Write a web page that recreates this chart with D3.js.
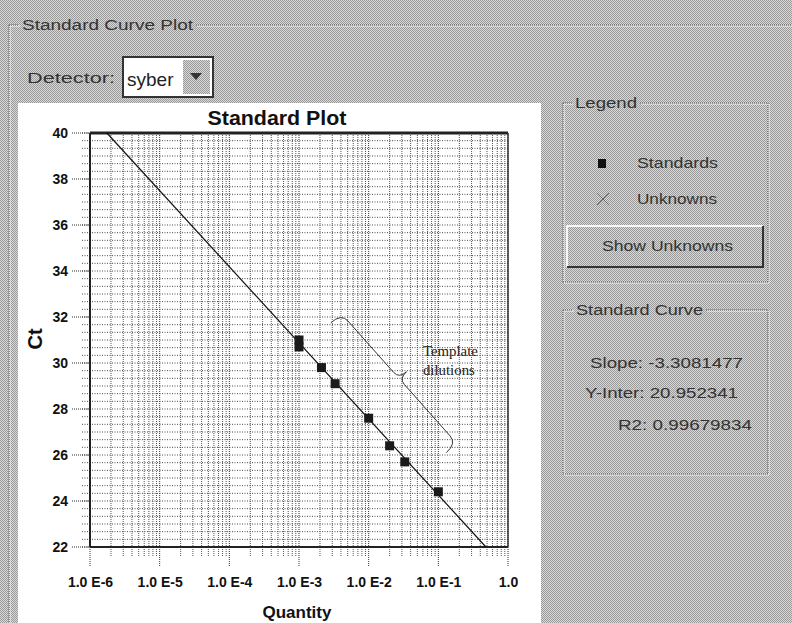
<!DOCTYPE html>
<html>
<head>
<meta charset="utf-8">
<script src="https://cdn.jsdelivr.net/npm/d3@7"></script>
<style>
  html, body { margin: 0; padding: 0; background: #c0c0c0; }
  svg { display: block; }
</style>
</head>
<body>
<svg id="chart" width="792" height="623"></svg>
<script>
// Standard curve: quantity (log scale) vs threshold cycle
const standardQty = [0.001, 0.001, 0.0021, 0.0033, 0.01, 0.02, 0.033, 0.1];
const standardCt  = [31.0, 30.7, 29.8, 29.1, 27.6, 26.4, 25.7, 24.4];

const curveSlope = -3.3081477;
const curveIntercept = 20.952341;
const curveR2 = 0.99679834;

const xTickValues = [1e-6, 1e-5, 1e-4, 1e-3, 1e-2, 1e-1, 1];
const xTickLabels = ["1.0 E-6", "1.0 E-5", "1.0 E-4", "1.0 E-3", "1.0 E-2", "1.0 E-1", "1.0"];
const yTickValues = [22, 24, 26, 28, 30, 32, 34, 36, 38, 40];

const detectorName = "syber";

const svg = d3.select("#chart");
const W = 792, H = 623;

// dithered window background
const defs = svg.append("defs");
const pat = defs.append("pattern").attr("id", "dither")
  .attr("width", 2).attr("height", 2).attr("patternUnits", "userSpaceOnUse");
pat.append("rect").attr("width", 2).attr("height", 2).attr("fill", "#d8d8d8");
pat.append("rect").attr("x", 0).attr("y", 0).attr("width", 1).attr("height", 1).attr("fill", "#9a9a9a");
pat.append("rect").attr("x", 1).attr("y", 1).attr("width", 1).attr("height", 1).attr("fill", "#9a9a9a");
svg.append("rect").attr("width", W).attr("height", H).attr("fill", "url(#dither)");

const uiFont = "'Liberation Sans', Arial, sans-serif";

// etched group box helper
function groupBox(x0, y0, x1, y1, label, labelX, labelW) {
  const g = svg.append("g");
  const segs = [
    [x0, y0, labelX - 3, y0], [labelX + labelW + 3, y0, x1, y0],
    [x0, y0, x0, y1], [x1, y0, x1, y1], [x0, y1, x1, y1]
  ];
  segs.forEach(s => {
    g.append("line").attr("x1", s[0] + 1).attr("y1", s[1] + 1).attr("x2", s[2] + 1).attr("y2", s[3] + 1)
      .attr("stroke", "#f4f4f4").attr("stroke-width", 1);
    g.append("line").attr("x1", s[0]).attr("y1", s[1]).attr("x2", s[2]).attr("y2", s[3])
      .attr("stroke", "#555").attr("stroke-width", 1).attr("stroke-dasharray", "1,1");
  });
  g.append("text").attr("x", labelX).attr("y", y0 + 5).attr("font-family", uiFont)
    .attr("font-size", 14).attr("fill", "#333").attr("textLength", labelW)
    .attr("lengthAdjust", "spacingAndGlyphs").text(label);
  return g;
}

// outer group "Standard Curve Plot"
groupBox(9, 25, 800, 640, "Standard Curve Plot", 22, 171);

// detector selector
svg.append("text").attr("x", 27).attr("y", 83).attr("font-family", uiFont).attr("font-size", 14)
  .attr("fill", "#333").attr("textLength", 88).attr("lengthAdjust", "spacingAndGlyphs").text("Detector:");
svg.append("rect").attr("x", 123).attr("y", 57).attr("width", 90).attr("height", 40)
  .attr("fill", "#fff").attr("stroke", "#333").attr("stroke-width", 2);
svg.append("text").attr("x", 127).attr("y", 86).attr("font-family", uiFont).attr("font-size", 19)
  .attr("fill", "#222").text(detectorName);
svg.append("rect").attr("x", 183).attr("y", 60).attr("width", 27).attr("height", 34).attr("fill", "url(#dither)");
svg.append("path").attr("d", "M190,73 L202,73 L196,80 Z").attr("fill", "#333");

// white chart panel
svg.append("rect").attr("x", 18).attr("y", 103).attr("width", 523).attr("height", 530).attr("fill", "#fff");

// plot scales
const plot = { left: 90, right: 508, top: 133, bottom: 547 };
const x = d3.scaleLog().domain([1e-6, 1]).range([plot.left, plot.right]);
const y = d3.scaleLinear().domain([22, 40]).range([plot.bottom, plot.top]);

const g = svg.append("g");

// vertical grid: decades and their 2..9 subdivisions
const minorX = [];
for (let d = -6; d < 0; d++) for (let k = 2; k <= 9; k++) minorX.push(k * Math.pow(10, d));
g.append("g").selectAll("line").data(minorX).join("line")
  .attr("x1", d => x(d)).attr("x2", d => x(d))
  .attr("y1", plot.top).attr("y2", plot.bottom + 10)
  .attr("stroke", "#555").attr("stroke-width", 1).attr("stroke-dasharray", "1,1");
g.append("g").selectAll("line").data(xTickValues).join("line")
  .attr("x1", d => x(d)).attr("x2", d => x(d))
  .attr("y1", plot.top).attr("y2", plot.bottom + 20)
  .attr("stroke", "#333").attr("stroke-width", 1).attr("stroke-dasharray", "1,1");

// horizontal grid: every third of a cycle
const minorY = d3.range(22, 40.01, 1 / 3);
g.append("g").selectAll("line").data(minorY).join("line")
  .attr("x1", plot.left - 8).attr("x2", plot.right)
  .attr("y1", d => y(d)).attr("y2", d => y(d))
  .attr("stroke", "#4a4a4a").attr("stroke-width", 1).attr("stroke-dasharray", "1,1.5");
g.append("g").selectAll("line").data(yTickValues).join("line")
  .attr("x1", plot.left - 18).attr("x2", plot.left)
  .attr("y1", d => y(d)).attr("y2", d => y(d))
  .attr("stroke", "#333").attr("stroke-width", 1).attr("stroke-dasharray", "1,1");

// frame
g.append("line").attr("x1", plot.left).attr("x2", plot.right).attr("y1", plot.top).attr("y2", plot.top)
  .attr("stroke", "#222").attr("stroke-width", 3);
g.append("line").attr("x1", plot.left).attr("x2", plot.right).attr("y1", plot.bottom).attr("y2", plot.bottom)
  .attr("stroke", "#222").attr("stroke-width", 2);
g.append("line").attr("x1", plot.left).attr("x2", plot.left).attr("y1", plot.top).attr("y2", plot.bottom)
  .attr("stroke", "#222").attr("stroke-width", 2);
g.append("line").attr("x1", plot.right).attr("x2", plot.right).attr("y1", plot.top).attr("y2", plot.bottom)
  .attr("stroke", "#333").attr("stroke-width", 1.5);

// axis labels via d3 axes (text only)
const xAxis = d3.axisBottom(x).tickValues(xTickValues).tickSize(0)
  .tickFormat((d, i) => xTickLabels[i]);
const xg = g.append("g").attr("transform", `translate(0,${plot.bottom + 27})`).call(xAxis);
xg.select(".domain").remove();
xg.selectAll("text").attr("font-family", uiFont).attr("font-weight", "bold")
  .attr("font-size", 14).attr("fill", "#111");

const yAxis = d3.axisLeft(y).tickValues(yTickValues).tickSize(0).tickFormat(d3.format("d"));
const yg = g.append("g").attr("transform", `translate(${plot.left - 19},0)`).call(yAxis);
yg.select(".domain").remove();
yg.selectAll("text").attr("font-family", uiFont).attr("font-weight", "bold")
  .attr("font-size", 14).attr("fill", "#111");

// titles
svg.append("text").attr("x", 277).attr("y", 125).attr("text-anchor", "middle")
  .attr("font-family", uiFont).attr("font-weight", "bold").attr("font-size", 20)
  .attr("textLength", 139).attr("lengthAdjust", "spacingAndGlyphs").attr("fill", "#111")
  .text("Standard Plot");
svg.append("text").attr("x", 297).attr("y", 618).attr("text-anchor", "middle")
  .attr("font-family", uiFont).attr("font-weight", "bold").attr("font-size", 17).attr("fill", "#111")
  .text("Quantity");
svg.append("text").attr("transform", "translate(42,339) rotate(-90)").attr("text-anchor", "middle")
  .attr("font-family", uiFont).attr("font-weight", "bold").attr("font-size", 20).attr("fill", "#111")
  .text("Ct");

// regression line Ct = slope*log10(q) + intercept, clipped to the Ct range
const qAt = ct => Math.pow(10, (ct - curveIntercept) / curveSlope);
const fitPts = [[qAt(40), 40], [qAt(22), 22]];
g.append("path").datum(fitPts)
  .attr("d", d3.line().x(d => x(d[0])).y(d => y(d[1])))
  .attr("fill", "none").attr("stroke", "#111").attr("stroke-width", 1.2);

// standards
const pts = standardQty.map((q, i) => ({ q, ct: standardCt[i] }));
g.append("g").selectAll("rect").data(pts).join("rect")
  .attr("x", d => x(d.q) - 4.5).attr("y", d => y(d.ct) - 4.5)
  .attr("width", 9).attr("height", 9).attr("fill", "#1a1a1a");

// brace annotation alongside the dilution series
function bracePath(p1, p2, body, tip) {
  const dx = p2[0] - p1[0], dy = p2[1] - p1[1];
  const L = Math.hypot(dx, dy);
  const u = [dx / L, dy / L];
  const n = [u[1], -u[0]];
  const P = (base, a, b) => [base[0] + u[0] * a + n[0] * b, base[1] + u[1] * a + n[1] * b];
  const m = [(p1[0] + p2[0]) / 2, (p1[1] + p2[1]) / 2];
  const p = d3.path();
  let c = P(p1, 0, body), e = P(p1, 10, body);
  p.moveTo(p1[0], p1[1]); p.quadraticCurveTo(c[0], c[1], e[0], e[1]);
  e = P(m, -8, body); p.lineTo(e[0], e[1]);
  c = P(m, 0, body); e = P(m, 0, tip); p.quadraticCurveTo(c[0], c[1], e[0], e[1]);
  p.moveTo(p2[0], p2[1]);
  c = P(p2, 0, body); e = P(p2, -10, body); p.quadraticCurveTo(c[0], c[1], e[0], e[1]);
  e = P(m, 8, body); p.lineTo(e[0], e[1]);
  c = P(m, 0, body); e = P(m, 0, tip); p.quadraticCurveTo(c[0], c[1], e[0], e[1]);
  return p.toString();
}
const braceStart = [x(0.00286), y(31.75)];
const braceEnd = [x(0.13), y(26.1)];
g.append("path").attr("d", bracePath(braceStart, braceEnd, 14, 24))
  .attr("fill", "none").attr("stroke", "#333").attr("stroke-width", 1);
const noteFont = "'Liberation Serif', 'Times New Roman', serif";
g.append("text").attr("x", x(0.06)).attr("y", y(30.3)).attr("font-family", noteFont)
  .attr("font-size", 15).attr("fill", "#222").attr("textLength", 55).attr("lengthAdjust", "spacingAndGlyphs").text("Template");
g.append("text").attr("x", x(0.06)).attr("y", y(29.5)).attr("font-family", noteFont)
  .attr("font-size", 15).attr("fill", "#222").attr("textLength", 52).attr("lengthAdjust", "spacingAndGlyphs").text("dilutions");

// legend group
groupBox(563, 103, 768, 282, "Legend", 575, 62);
svg.append("rect").attr("x", 598).attr("y", 159).attr("width", 8).attr("height", 9).attr("fill", "#111");
svg.append("text").attr("x", 637).attr("y", 168).attr("font-family", uiFont).attr("font-size", 15)
  .attr("fill", "#333").attr("textLength", 81).attr("lengthAdjust", "spacingAndGlyphs").text("Standards");
svg.append("path").attr("d", "M597,193 L609,205 M609,193 L597,205").attr("stroke", "#666").attr("stroke-width", 1);
svg.append("text").attr("x", 637).attr("y", 204).attr("font-family", uiFont).attr("font-size", 15)
  .attr("fill", "#333").attr("textLength", 80).attr("lengthAdjust", "spacingAndGlyphs").text("Unknowns");

// button
svg.append("path").attr("d", "M567,267 L567,226 L763,226").attr("fill", "none").attr("stroke", "#f6f6f6").attr("stroke-width", 2);
svg.append("path").attr("d", "M567,267 L763,267 L763,226").attr("fill", "none").attr("stroke", "#333").attr("stroke-width", 2);
svg.append("text").attr("x", 602).attr("y", 251).attr("font-family", uiFont).attr("font-size", 15)
  .attr("fill", "#333").attr("textLength", 131).attr("lengthAdjust", "spacingAndGlyphs").text("Show Unknowns");

// standard curve statistics
groupBox(563, 310, 768, 474, "Standard Curve", 576, 127);
svg.append("text").attr("x", 590).attr("y", 368).attr("font-family", uiFont).attr("font-size", 15)
  .attr("fill", "#333").attr("textLength", 153).attr("lengthAdjust", "spacingAndGlyphs")
  .text("Slope: " + curveSlope);
svg.append("text").attr("x", 585).attr("y", 398).attr("font-family", uiFont).attr("font-size", 15)
  .attr("fill", "#333").attr("textLength", 153).attr("lengthAdjust", "spacingAndGlyphs")
  .text("Y-Inter: " + curveIntercept);
svg.append("text").attr("x", 618).attr("y", 430).attr("font-family", uiFont).attr("font-size", 15)
  .attr("fill", "#333").attr("textLength", 134).attr("lengthAdjust", "spacingAndGlyphs")
  .text("R2: " + curveR2);
</script>
</body>
</html>
